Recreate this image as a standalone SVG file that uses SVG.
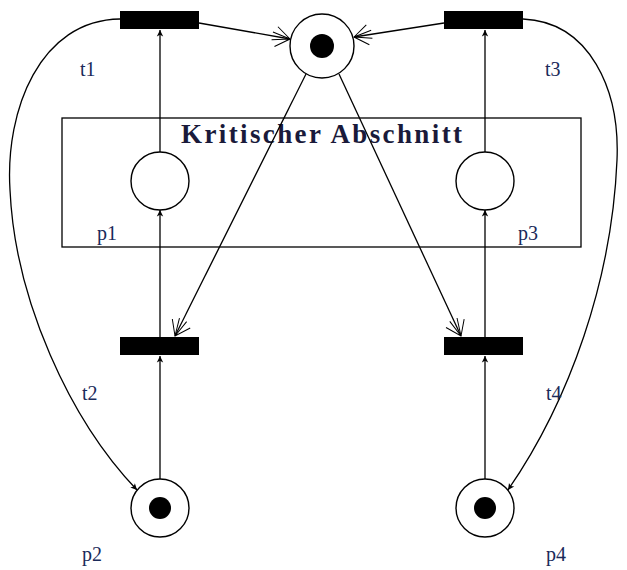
<svg xmlns="http://www.w3.org/2000/svg" width="627" height="570" viewBox="0 0 627 570">
<style>
.ln{fill:none;stroke:#000;stroke-width:1.3}
.pl{fill:#fff;stroke:#000;stroke-width:1.4}
.tk{fill:#000}
.tr{fill:#000}
.lb{font-family:"Liberation Serif",serif;font-size:20px;fill:#1a2a5a}
.ti{font-family:"Liberation Serif",serif;font-size:27px;fill:#1a1a3a;font-weight:bold}
</style>
<defs>
<marker id="a" viewBox="0 0 10 10" refX="9" refY="5" markerWidth="8" markerHeight="8" orient="auto" markerUnits="userSpaceOnUse">
<path d="M1,1 L9,5 L1,9 L3,5 Z" fill="#000"/>
</marker>
<marker id="o" viewBox="0 0 24 24" refX="20" refY="12" markerWidth="24" markerHeight="24" orient="auto" markerUnits="userSpaceOnUse">
<path d="M6,2 L20,12 L6,22 M2,8 L20,12 L2,16" fill="none" stroke="#000" stroke-width="1"/>
</marker>
</defs>
<rect x="62" y="118" width="519" height="129" fill="none" stroke="#000" stroke-width="1.3"/>
<text class="ti" x="181" y="143" textLength="281" lengthAdjust="spacing">Kritischer Abschnitt</text>
<g id="connectors">
<line class="ln" x1="160" y1="152" x2="160" y2="30" marker-end="url(#a)"/>
<line class="ln" x1="485" y1="152" x2="485" y2="30" marker-end="url(#a)"/>
<line class="ln" x1="160" y1="337" x2="160" y2="210" marker-end="url(#a)"/>
<line class="ln" x1="485" y1="337" x2="485" y2="210" marker-end="url(#a)"/>
<line class="ln" x1="160" y1="479" x2="160" y2="356" marker-end="url(#a)"/>
<line class="ln" x1="485" y1="479" x2="485" y2="356" marker-end="url(#a)"/>
<line class="ln" x1="199" y1="23" x2="290" y2="39" marker-end="url(#o)"/>
<line class="ln" x1="444" y1="23" x2="354" y2="37" marker-end="url(#o)"/>
<line class="ln" x1="306" y1="74" x2="175" y2="336" marker-end="url(#o)"/>
<line class="ln" x1="339" y1="74" x2="461" y2="336" marker-end="url(#o)"/>
<path class="ln" d="M120,19 C40,20 5,110 10,190 C15,300 70,420 137,490" marker-end="url(#a)"/>
<path class="ln" d="M523,19 C590,22 620,90 617,160 C612,280 570,400 508,490" marker-end="url(#a)"/>
</g>
<g id="t1"><rect class="tr" x="120" y="11" width="79" height="18"/><text class="lb" x="80" y="76">t1</text></g>
<g id="t3"><rect class="tr" x="444" y="11" width="79" height="18"/><text class="lb" x="545" y="76">t3</text></g>
<g id="t2"><rect class="tr" x="120" y="337" width="79" height="18"/><text class="lb" x="82" y="400">t2</text></g>
<g id="t4"><rect class="tr" x="444" y="337" width="79" height="18"/><text class="lb" x="546" y="400">t4</text></g>
<g id="mutex"><circle class="pl" cx="322" cy="46" r="32"/><circle class="tk" cx="322" cy="46" r="12"/></g>
<g id="p1"><circle class="pl" cx="160" cy="181" r="29"/><text class="lb" x="97" y="240">p1</text></g>
<g id="p3"><circle class="pl" cx="485" cy="181" r="29"/><text class="lb" x="518" y="240">p3</text></g>
<g id="p2"><circle class="pl" cx="160" cy="508" r="29"/><circle class="tk" cx="160" cy="508" r="11"/><text class="lb" x="82" y="561">p2</text></g>
<g id="p4"><circle class="pl" cx="485" cy="508" r="29"/><circle class="tk" cx="485" cy="508" r="11"/><text class="lb" x="546" y="561">p4</text></g>
</svg>
